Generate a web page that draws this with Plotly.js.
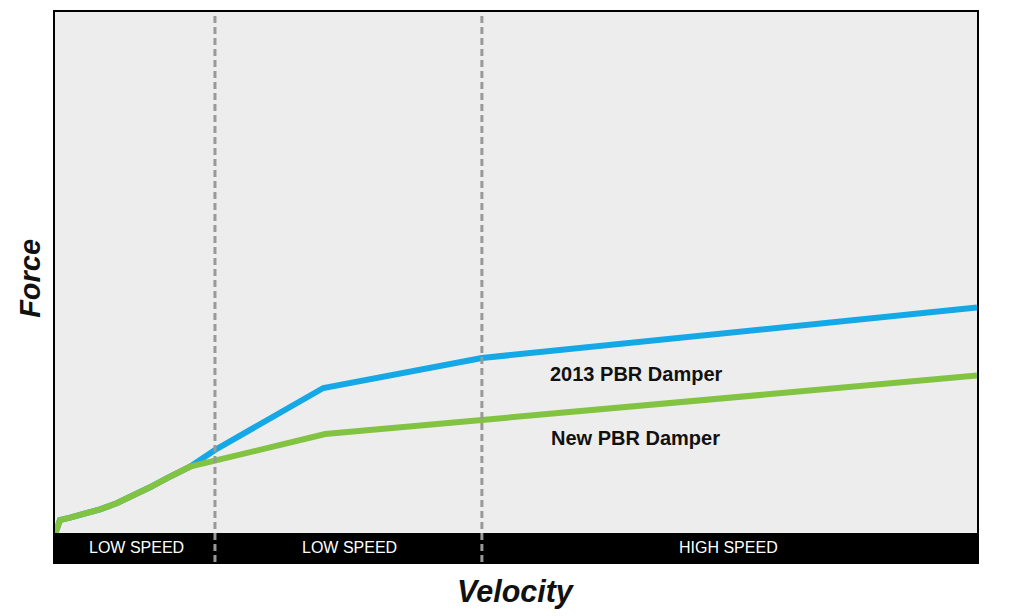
<!DOCTYPE html>
<html>
<head>
<meta charset="utf-8">
<script src="https://cdn.plot.ly/plotly-3.0.1.min.js"></script>
<style>
  html, body { margin: 0; padding: 0; background: #fff; }
  #grafico { width: 1024px; height: 616px; }
</style>
</head>
<body>
<div id="grafico"></div>
<script>
// velocity (0-100) and force (arbitrary units)
const velNew = [0.05, 0.54, 1.63, 3.07, 4.88, 6.69, 8.49, 10.3, 12.11, 13.92, 14.64, 29.3, 46.3, 100];
const forceNew = [0, 2.6, 3.06, 3.74, 4.74, 5.94, 7.46, 9.14, 10.94, 12.6, 13.26, 19.8, 22.6, 31.5];

const vel2013 = [0.05, 0.54, 1.63, 3.07, 4.88, 6.69, 8.49, 10.3, 12.11, 13.92, 14.64, 17.35, 29.1, 46.3, 100];
const force2013 = [0, 2.6, 3.06, 3.74, 4.74, 5.94, 7.46, 9.14, 10.94, 12.6, 13.26, 16.6, 29, 35, 45.1];

// zone borders and zone labels
const zoneBorders = [17.35, 46.3];
const zoneLabels = ['LOW SPEED', 'LOW SPEED', 'HIGH SPEED'];
const zoneLabelX = [8.8, 31.9, 73.0];

const seriesNames = ['2013 PBR Damper', 'New PBR Damper'];
const seriesLabelX = [53.5, 53.6];
const seriesLabelY = [31.8, 19.0];

const xRange = [0, 100];
const yRange = [-5.8, 104.2];

const fuente = 'Liberation Sans, Arial, sans-serif';

const traza2013 = {
    x: vel2013,
    y: force2013,
    type: 'scatter',
    mode: 'lines',
    name: seriesNames[0],
    line: { color: '#14a8e6', width: 6 },
    hoverinfo: 'skip'
};

const trazaNew = {
    x: velNew,
    y: forceNew,
    type: 'scatter',
    mode: 'lines',
    name: seriesNames[1],
    line: { color: '#82c341', width: 6 },
    hoverinfo: 'skip'
};

// black band under the curves
const shapes = [{
    type: 'rect',
    xref: 'paper', yref: 'y',
    x0: 0, x1: 1, y0: yRange[0], y1: 0,
    fillcolor: '#000', line: { width: 0 },
    layer: 'above'
}];

zoneBorders.forEach(xb => {
    shapes.push({
        type: 'line',
        xref: 'x', yref: 'paper',
        x0: xb, x1: xb, y0: 0, y1: 1,
        line: { color: '#999', width: 3, dash: '7px,4px' },
        layer: 'above'
    });
});

const annotations = [];

zoneLabels.forEach((txt, i) => {
    annotations.push({
        x: zoneLabelX[i], y: yRange[0] / 2,
        xref: 'x', yref: 'y',
        text: txt,
        showarrow: false,
        xanchor: 'center', yanchor: 'middle',
        font: { family: fuente, size: 16, color: '#fff' }
    });
});

seriesNames.forEach((txt, i) => {
    annotations.push({
        x: seriesLabelX[i], y: seriesLabelY[i],
        xref: 'x', yref: 'y',
        text: '<b>' + txt + '</b>',
        showarrow: false,
        xanchor: 'left', yanchor: 'middle',
        font: { family: fuente, size: 20, color: '#111' }
    });
});

// axis titles
annotations.push({
    x: 0.5, y: -0.053,
    xref: 'paper', yref: 'paper',
    text: '<b><i>Velocity</i></b>',
    showarrow: false,
    xanchor: 'center', yanchor: 'middle',
    font: { family: fuente, size: 30.5, color: '#111' }
});
annotations.push({
    x: -0.027, y: 0.515,
    xref: 'paper', yref: 'paper',
    text: '<b><i>Force</i></b>',
    textangle: -90,
    showarrow: false,
    xanchor: 'center', yanchor: 'middle',
    font: { family: fuente, size: 29, color: '#111' }
});

const layout = {
    width: 1024,
    height: 616,
    margin: { l: 55, r: 47, t: 12, b: 54 },
    paper_bgcolor: '#fff',
    plot_bgcolor: '#ededed',
    showlegend: false,
    xaxis: {
        range: xRange,
        showgrid: false, zeroline: false, showticklabels: false, ticks: '',
        showline: true, linecolor: '#000', linewidth: 2, mirror: true,
        fixedrange: true
    },
    yaxis: {
        range: yRange,
        showgrid: false, zeroline: false, showticklabels: false, ticks: '',
        showline: true, linecolor: '#000', linewidth: 2, mirror: true,
        fixedrange: true
    },
    shapes: shapes,
    annotations: annotations
};

Plotly.newPlot('grafico', [traza2013, trazaNew], layout, { displayModeBar: false, staticPlot: true });
</script>
</body>
</html>
